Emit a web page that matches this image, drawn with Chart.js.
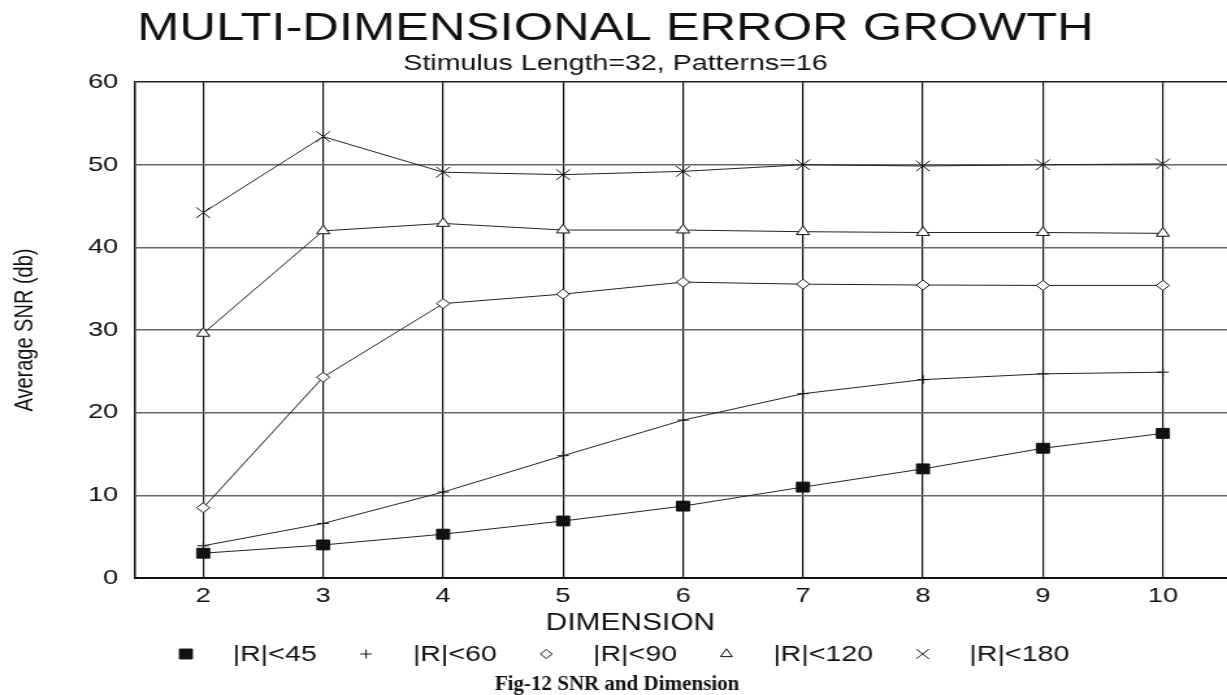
<!DOCTYPE html>
<html>
<head>
<meta charset="utf-8">
<title>Multi-dimensional error growth</title>
<script src="https://cdn.jsdelivr.net/npm/chart.js@4.4.1/dist/chart.umd.min.js"></script>
<style>
  html, body { margin: 0; padding: 0; background: #fff; overflow: hidden; }
  #wrap { width: 1227px; height: 695px; overflow: hidden; }
  #chart { display: block; }
</style>
</head>
<body>
<!-- the source figure is stretched sideways, so the canvas is drawn narrow and shown wide -->
<div id="wrap"><canvas id="chart" width="974" height="695" style="width:1266px;height:695px"></canvas></div>
<script>
const dimensions = [2, 3, 4, 5, 6, 7, 8, 9, 10];
const r45  = [3.0, 4.0, 5.3, 6.9, 8.7, 11.0, 13.2, 15.7, 17.5];
const r60  = [3.9, 6.6, 10.4, 14.8, 19.1, 22.3, 24.0, 24.7, 24.9];
const r90  = [8.5, 24.3, 33.2, 34.35, 35.8, 35.55, 35.45, 35.4, 35.4];
const r120 = [29.6, 42.0, 42.9, 42.1, 42.1, 41.9, 41.8, 41.8, 41.7];
const r180 = [44.2, 53.4, 49.1, 48.8, 49.2, 50.0, 49.85, 50.0, 50.1];
const yTicks = [0, 10, 20, 30, 40, 50, 60];
const seriesLabels = ['|R|<45', '|R|<60', '|R|<90', '|R|<120', '|R|<180'];
const xTitle = 'DIMENSION';
const caption = 'Fig-12 SNR and Dimension';

const STRETCH = 1266 / 974;
const SANS = '"Liberation Sans", Arial, sans-serif';

Chart.defaults.font.family = SANS;
Chart.defaults.color = '#111';

function points(values) {
  return dimensions.map((d, i) => ({ x: d, y: values[i] }));
}

function series(label, values, style, radius, legendRadius, fill) {
  return {
    label: label,
    data: points(values),
    borderColor: '#222',
    borderWidth: 1,
    pointStyle: style,
    pointRadius: radius,
    pointHoverRadius: radius,
    pointBackgroundColor: fill,
    pointBorderColor: '#111',
    pointBorderWidth: 1,
    legendRadius: legendRadius,
    tension: 0
  };
}

// x title, legend and caption drawn by hand: in the figure they are centred
// on the whole picture, not on the plot area
const bottomLegend = {
  id: 'bottomLegend',
  afterDraw(chart) {
    const ctx = chart.ctx;
    ctx.save();
    ctx.fillStyle = '#111';
    ctx.textBaseline = 'middle';
    ctx.textAlign = 'center';
    ctx.font = '23px ' + SANS;
    ctx.fillText(xTitle, 485, 624);

    const y = 654;
    let x = 143;
    ctx.font = '22px ' + SANS;
    ctx.textAlign = 'left';
    chart.data.datasets.forEach(ds => {
      ctx.fillStyle = ds.pointBackgroundColor;
      ctx.strokeStyle = '#111';
      ctx.lineWidth = 1;
      Chart.helpers.drawPoint(ctx, {
        pointStyle: ds.pointStyle, radius: ds.legendRadius, borderWidth: 1, rotation: 0
      }, x, y);
      ctx.fillStyle = '#111';
      const tx = x + 36;
      ctx.fillText(ds.label, tx, y + 1);
      x = tx + ctx.measureText(ds.label).width + 38;
    });
    // the caption belongs to the page, not the stretched figure
    ctx.scale(1 / STRETCH, 1);
    ctx.font = 'bold 21px "Liberation Serif", "Times New Roman", serif';
    ctx.textAlign = 'center';
    ctx.fillText(caption, 617, 685);
    ctx.restore();
  }
};

new Chart(document.getElementById('chart'), {
  type: 'line',
  data: {
    datasets: [
      series(seriesLabels[0], r45, 'rect', 7, 7, '#111'),
      series(seriesLabels[1], r60, 'cross', 4.5, 4.4, '#111'),
      series(seriesLabels[2], r90, 'rectRot', 5, 4.5, '#fff'),
      series(seriesLabels[3], r120, 'triangle', 5.8, 5.2, '#fff'),
      series(seriesLabels[4], r180, 'crossRot', 7.5, 7, '#111')
    ]
  },
  options: {
    responsive: false,
    animation: false,
    devicePixelRatio: 1,
    layout: { padding: { top: 0, left: 0, right: 27, bottom: 0 } },
    plugins: {
      legend: { display: false },
      tooltip: { enabled: false },
      title: {
        display: true,
        text: 'MULTI-DIMENSIONAL ERROR GROWTH',
        color: '#111',
        font: { size: 39, weight: 'normal', lineHeight: 1.1 },
        padding: { top: 8, bottom: 0 }
      },
      subtitle: {
        display: true,
        text: 'Stimulus Length=32, Patterns=16',
        color: '#111',
        font: { size: 22, lineHeight: 1.1 },
        padding: { top: 1, bottom: 6 }
      }
    },
    scales: {
      x: {
        type: 'linear',
        min: 1.433,
        max: 10.567,
        afterBuildTicks: s => { s.ticks = dimensions.map(v => ({ value: v })); },
        afterFit: s => { s.height = 117; },
        grid: { color: '#111', lineWidth: 1.2, drawTicks: false },
        border: { color: '#111', width: 2 },
        ticks: { color: '#111', font: { size: 21 }, padding: 6 }
      },
      y: {
        min: 0,
        max: 60,
        afterBuildTicks: s => { s.ticks = yTicks.map(v => ({ value: v })); },
        afterFit: s => { s.width = 104; },
        grid: {
          color: c => (c.tick && c.tick.value === 60) ? '#222' : '#666',
          lineWidth: 1.5,
          drawTicks: false
        },
        border: { color: '#111', width: 1.5 },
        ticks: { color: '#111', font: { size: 21 }, padding: 13 },
        title: {
          display: true, text: 'Average SNR (db)', color: '#111',
          font: { size: 20 }, padding: { top: 7, bottom: 0 }
        }
      }
    }
  },
  plugins: [bottomLegend]
});
</script>
</body>
</html>
